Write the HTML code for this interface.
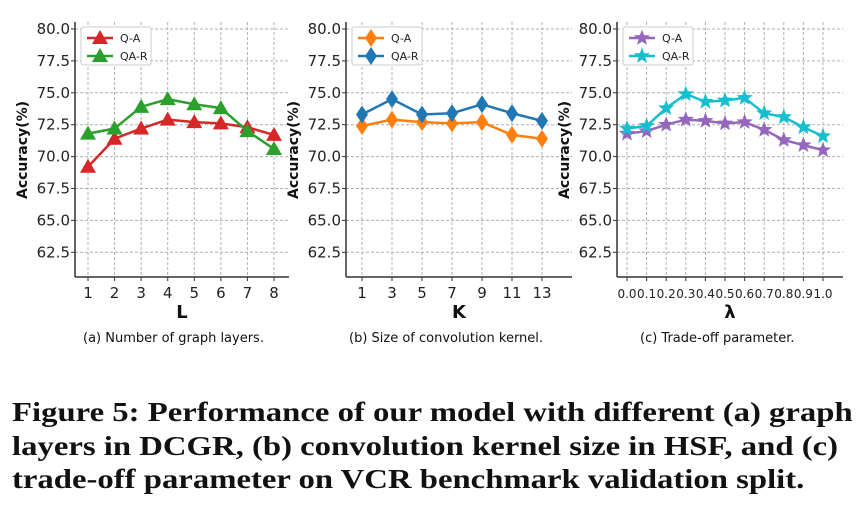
<!DOCTYPE html>
<html><head><meta charset="utf-8"><style>
body{margin:0;background:#fff;width:865px;height:519px;overflow:hidden;position:relative}
svg{position:absolute;left:0;top:0}
.sub{position:absolute;top:331px;font:13px "DejaVu Sans","Liberation Sans",sans-serif;color:#111;white-space:nowrap}
.cap{position:absolute;left:12px;top:395px;font:bold 27.5px/33.5px "Liberation Serif",serif;color:#111;white-space:nowrap;transform:scaleX(1.19);transform-origin:0 0}
</style></head><body>
<svg id="c" width="865" height="330"></svg>
<div class="sub" style="left:83px">(a) Number of graph layers.</div>
<div class="sub" style="left:349px">(b) Size of convolution kernel.</div>
<div class="sub" style="left:640px">(c) Trade-off parameter.</div>
<div class="cap">Figure 5: Performance of our model with different (a) graph<br>layers in DCGR, (b) convolution kernel size in HSF, and (c)<br>trade-off parameter on VCR benchmark validation split.</div>
<script>
const yTicks=[62.5,65.0,67.5,70.0,72.5,75.0,77.5,80.0];
const catsA=["1","2","3","4","5","6","7","8"];
const qaA=[69.2,71.4,72.2,72.9,72.7,72.6,72.3,71.7];
const qarA=[71.8,72.2,73.9,74.5,74.1,73.8,72.0,70.6];
const catsB=["1","3","5","7","9","11","13"];
const qaB=[72.4,72.9,72.7,72.6,72.7,71.7,71.4];
const qarB=[73.3,74.5,73.3,73.4,74.1,73.4,72.8];
const catsC=["0.0","0.1","0.2","0.3","0.4","0.5","0.6","0.7","0.8","0.9","1.0"];
const qaC=[71.8,72.0,72.5,72.9,72.8,72.6,72.7,72.1,71.3,70.9,70.5];
const qarC=[72.2,72.4,73.8,74.9,74.3,74.4,74.6,73.4,73.1,72.3,71.6];

const svg=document.getElementById('c');const NS="http://www.w3.org/2000/svg";
function mk(t,a,p){const e=document.createElementNS(NS,t);for(const k in a)e.setAttribute(k,a[k]);(p||svg).appendChild(e);return e;}
function yAt(v){return 29+(80-v)*12.76;}
function marker(type,x,y,col,g){
  if(type==='tri')return mk('polygon',{points:`${x},${y-8} ${x-8},${y+6} ${x+8},${y+6}`,fill:col},g);
  if(type==='dia')return mk('polygon',{points:`${x},${y-9} ${x-6},${y} ${x},${y+9} ${x+6},${y}`,fill:col},g);
  let p=[];for(let i=0;i<10;i++){const r=i%2?3.6:8.5,a=-Math.PI/2+i*Math.PI/5;p.push((x+r*Math.cos(a)).toFixed(1)+','+(y+r*Math.sin(a)).toFixed(1));}
  return mk('polygon',{points:p.join(' '),fill:col},g);
}
function panel(id,left,right,x0,x1,cats,s1,s2,c1,c2,mtype,xl,tickSize){
  const g=mk('g',{});
  
  
  const n=cats.length;const xAt=i=>x0+(x1-x0)*i/(n-1);
  yTicks.forEach(v=>{const y=yAt(v);
    mk('line',{x1:left,x2:right,y1:y,y2:y,stroke:'#b0b0b0','stroke-dasharray':'3,2','stroke-width':1},g);
    mk('line',{x1:left-4,x2:left,y1:y,y2:y,stroke:'#333'},g);
    const t=mk('text',{x:left-5,y:y+5,'text-anchor':'end','font-size':15,'font-family':'DejaVu Sans,sans-serif',fill:'#222'},g);t.textContent=v.toFixed(1);});
  cats.forEach((c,i)=>{const x=xAt(i);
    mk('line',{x1:x,x2:x,y1:22,y2:277,stroke:'#b0b0b0','stroke-dasharray':'3,2'},g);
    mk('line',{x1:x,x2:x,y1:277,y2:281,stroke:'#333'},g);
    const t=mk('text',{x:x,y:298,'text-anchor':'middle','font-size':tickSize,'font-family':'DejaVu Sans,sans-serif',fill:'#222'},g);t.textContent=c;});
  mk('line',{x1:left,x2:left,y1:22,y2:277,stroke:'#333','stroke-width':1.5},g);
  mk('line',{x1:left,x2:right,y1:277,y2:277,stroke:'#333','stroke-width':1.5},g);
  [[s1,c1,'q-a'],[s2,c2,'qa-r']].forEach(([s,col,nm])=>{
    const pl=mk('polyline',{points:s.map((v,i)=>xAt(i)+','+yAt(v)).join(' '),fill:'none',stroke:col,'stroke-width':2.5},g);
    
    
    s.forEach((v,i)=>{const m=marker(mtype,xAt(i),yAt(v),col,g);
      
      });
  });
  const xt=mk('text',{x:(left+right)/2,y:318,'text-anchor':'middle','font-size':18,'font-weight':'bold','font-family':'DejaVu Sans,sans-serif',fill:'#111'},g);xt.textContent=xl;
  
  
  const yx=left-48,yy=150;
  const yt=mk('text',{x:yx,y:yy,transform:`rotate(-90 ${yx} ${yy})`,'text-anchor':'middle','font-size':14,'font-weight':'bold','font-family':'DejaVu Sans,sans-serif',fill:'#111'},g);yt.textContent='Accuracy(%)';
  
  
  const lg=mk('g',{},g);
  
  
  mk('rect',{x:left+6,y:27,width:70,height:38,fill:'#fff',stroke:'#ccc','stroke-width':1,rx:2},lg);
  [[c1,'Q-A',38],[c2,'QA-R',56]].forEach(([col,lab,y])=>{
    mk('line',{x1:left+12,x2:left+38,y1:y,y2:y,stroke:col,'stroke-width':2.5},lg);
    marker(mtype,left+25,y,col,lg);
    const t=mk('text',{x:left+45,y:y+4,'font-size':11,'font-family':'DejaVu Sans,sans-serif',fill:'#222'},lg);t.textContent=lab;});
}
panel('a',75,289,88,274,catsA,qaA,qarA,'#d62728','#2ca02c','tri','L',15);
panel('b',346,572,362,542,catsB,qaB,qarB,'#ff7f0e','#1f77b4','dia','K',15);
panel('c',617,843,627,823,catsC,qaC,qarC,'#9467bd','#17becf','star','λ',12);
</script>
</body></html>
